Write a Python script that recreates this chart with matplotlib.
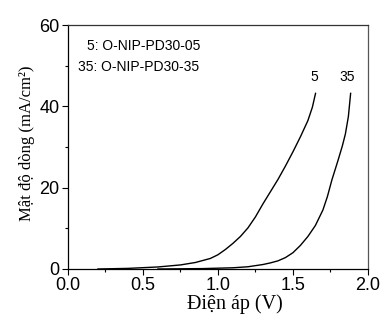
import numpy as np
import matplotlib
matplotlib.use("Agg")
import matplotlib.pyplot as plt
from matplotlib.ticker import MultipleLocator

# J-V data
v_05 = [0.20, 0.40, 0.60, 0.75, 0.85, 0.95, 1.00, 1.05, 1.10, 1.15, 1.20, 1.25,
        1.30, 1.35, 1.40, 1.45, 1.50, 1.55, 1.60, 1.63, 1.651]
j_05 = [0.0, 0.15, 0.5, 1.0, 1.6, 2.6, 3.5, 4.8, 6.3, 8.0, 10.1, 12.8,
        16.0, 19.0, 22.0, 25.3, 28.8, 32.5, 36.5, 39.8, 43.2]

v_35 = [0.60, 0.90, 1.10, 1.20, 1.30, 1.35, 1.40, 1.45, 1.50, 1.55, 1.60, 1.65,
        1.70, 1.73, 1.76, 1.80, 1.83, 1.85, 1.87, 1.885]
j_35 = [0.0, 0.1, 0.3, 0.55, 1.1, 1.5, 2.0, 2.8, 4.0, 5.8, 8.0, 10.7,
        14.5, 17.8, 21.9, 26.6, 30.3, 33.2, 37.5, 43.2]

legend_lines = ["5: O-NIP-PD30-05", "35: O-NIP-PD30-35"]

fig = plt.figure(figsize=(3.84, 3.21), dpi=100)
ax = fig.add_axes([0.177, 0.162, 0.781, 0.760])

ax.plot(v_05, j_05, color="black", lw=1.0)
ax.plot(v_35, j_35, color="black", lw=1.0)

ax.set_xlim(0.0, 2.0)
ax.set_ylim(0, 60)
ax.xaxis.set_major_locator(MultipleLocator(0.5))
ax.xaxis.set_minor_locator(MultipleLocator(0.25))
ax.yaxis.set_major_locator(MultipleLocator(20))
ax.yaxis.set_minor_locator(MultipleLocator(10))
ax.xaxis.set_major_formatter(matplotlib.ticker.FormatStrFormatter("%.1f"))
ax.tick_params(which="major", direction="out", length=4, width=0.8,
               labelsize=13, pad=2)
ax.tick_params(which="minor", direction="out", length=2.5, width=0.8)
for lab in ax.get_xticklabels() + ax.get_yticklabels():
    lab.set_family("Liberation Sans")

for s in ax.spines.values():
    s.set_linewidth(0.9)
ax.spines["right"].set_color("#555555")
ax.spines["top"].set_color("#333333")

ax.set_xlabel("Điện áp (V)", family="Liberation Serif", fontsize=14.5)
ax.set_ylabel("Mật độ dòng (mA/cm²)", family="Liberation Serif", fontsize=12)
ax.xaxis.set_label_coords(0.557, -0.105)
ax.yaxis.set_label_coords(-0.11, 0.516)

ax.text(0.124, 54.8, legend_lines[0], family="Liberation Sans", fontsize=10,
        va="center", ha="left")
ax.text(0.064, 49.8, legend_lines[1], family="Liberation Sans", fontsize=10,
        va="center", ha="left")
ax.text(v_05[-1] - 0.01, 47.2, "5", family="Liberation Sans", fontsize=10,
        ha="center", va="center")
ax.text(v_35[-1] - 0.02, 47.2, "35", family="Liberation Sans", fontsize=10,
        ha="center", va="center")

fig.savefig("out.png", dpi=100)
